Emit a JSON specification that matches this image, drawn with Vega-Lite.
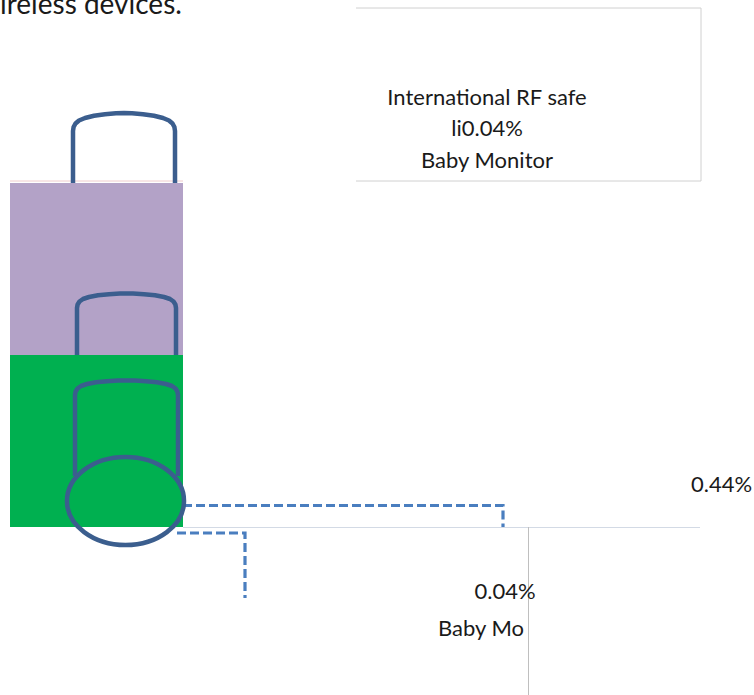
{
  "$schema": "https://vega.github.io/schema/vega-lite/v6.json",
  "width": 754,
  "height": 695,
  "autosize": "none",
  "padding": 0,
  "background": "white",
  "config": {"view": {"stroke": null}},
  "datasets": {
    "blocks": [
      {"block": "upper", "x0": 10, "x1": 183, "y0": 183, "y1": 355},
      {"block": "lower", "x0": 10, "x1": 183, "y0": 355, "y1": 527}
    ],
    "guides": [
      {"path": "box", "seq": 1, "x": 356, "y": 8},
      {"path": "box", "seq": 2, "x": 701, "y": 8},
      {"path": "box", "seq": 3, "x": 701, "y": 181},
      {"path": "box", "seq": 4, "x": 356, "y": 181},
      {"path": "pink", "seq": 1, "x": 10, "y": 181},
      {"path": "pink", "seq": 2, "x": 183, "y": 181},
      {"path": "base", "seq": 1, "x": 183, "y": 527.5},
      {"path": "base", "seq": 2, "x": 700, "y": 527.5},
      {"path": "vert", "seq": 1, "x": 528.5, "y": 527},
      {"path": "vert", "seq": 2, "x": 528.5, "y": 695}
    ],
    "arches": [
      {"path": "a1", "seq": 1, "x": 73, "y": 183},
      {"path": "a1", "seq": 2, "x": 73, "y": 131},
      {"path": "a1", "seq": 3, "x": 73.6, "y": 127},
      {"path": "a1", "seq": 4, "x": 75.5, "y": 123.5},
      {"path": "a1", "seq": 5, "x": 79, "y": 120.5},
      {"path": "a1", "seq": 6, "x": 85, "y": 118},
      {"path": "a1", "seq": 7, "x": 94, "y": 115.8},
      {"path": "a1", "seq": 8, "x": 105, "y": 114.2},
      {"path": "a1", "seq": 9, "x": 116, "y": 113.3},
      {"path": "a1", "seq": 10, "x": 124, "y": 113},
      {"path": "a1", "seq": 11, "x": 132, "y": 113.3},
      {"path": "a1", "seq": 12, "x": 143, "y": 114.2},
      {"path": "a1", "seq": 13, "x": 154, "y": 115.8},
      {"path": "a1", "seq": 14, "x": 163, "y": 118},
      {"path": "a1", "seq": 15, "x": 169, "y": 120.5},
      {"path": "a1", "seq": 16, "x": 172.5, "y": 123.5},
      {"path": "a1", "seq": 17, "x": 174.4, "y": 127},
      {"path": "a1", "seq": 18, "x": 175, "y": 131},
      {"path": "a1", "seq": 19, "x": 175, "y": 183},
      {"path": "a2", "seq": 1, "x": 77, "y": 355},
      {"path": "a2", "seq": 2, "x": 77, "y": 308},
      {"path": "a2", "seq": 3, "x": 77.6, "y": 304.5},
      {"path": "a2", "seq": 4, "x": 79.5, "y": 301.5},
      {"path": "a2", "seq": 5, "x": 83, "y": 299},
      {"path": "a2", "seq": 6, "x": 89, "y": 297},
      {"path": "a2", "seq": 7, "x": 98, "y": 295.3},
      {"path": "a2", "seq": 8, "x": 109, "y": 294.2},
      {"path": "a2", "seq": 9, "x": 120, "y": 293.6},
      {"path": "a2", "seq": 10, "x": 126.5, "y": 293.5},
      {"path": "a2", "seq": 11, "x": 133, "y": 293.6},
      {"path": "a2", "seq": 12, "x": 144, "y": 294.2},
      {"path": "a2", "seq": 13, "x": 155, "y": 295.3},
      {"path": "a2", "seq": 14, "x": 164, "y": 297},
      {"path": "a2", "seq": 15, "x": 170, "y": 299},
      {"path": "a2", "seq": 16, "x": 173.5, "y": 301.5},
      {"path": "a2", "seq": 17, "x": 175.4, "y": 304.5},
      {"path": "a2", "seq": 18, "x": 176, "y": 308},
      {"path": "a2", "seq": 19, "x": 176, "y": 355},
      {"path": "a3", "seq": 1, "x": 75, "y": 476},
      {"path": "a3", "seq": 2, "x": 75, "y": 395},
      {"path": "a3", "seq": 3, "x": 75.6, "y": 391.5},
      {"path": "a3", "seq": 4, "x": 77.5, "y": 388.5},
      {"path": "a3", "seq": 5, "x": 81, "y": 386},
      {"path": "a3", "seq": 6, "x": 87, "y": 384},
      {"path": "a3", "seq": 7, "x": 96, "y": 382.3},
      {"path": "a3", "seq": 8, "x": 107, "y": 381.2},
      {"path": "a3", "seq": 9, "x": 118, "y": 380.6},
      {"path": "a3", "seq": 10, "x": 126.5, "y": 380.5},
      {"path": "a3", "seq": 11, "x": 135, "y": 380.6},
      {"path": "a3", "seq": 12, "x": 146, "y": 381.2},
      {"path": "a3", "seq": 13, "x": 157, "y": 382.3},
      {"path": "a3", "seq": 14, "x": 166, "y": 384},
      {"path": "a3", "seq": 15, "x": 172, "y": 386},
      {"path": "a3", "seq": 16, "x": 175.5, "y": 388.5},
      {"path": "a3", "seq": 17, "x": 177.4, "y": 391.5},
      {"path": "a3", "seq": 18, "x": 178, "y": 395},
      {"path": "a3", "seq": 19, "x": 178, "y": 476}
    ],
    "connectors": [
      {"path": "c1", "seq": 1, "x": 183, "y": 505.5},
      {"path": "c1", "seq": 2, "x": 503, "y": 505.5},
      {"path": "c1", "seq": 3, "x": 503, "y": 527},
      {"path": "c2", "seq": 1, "x": 177, "y": 533},
      {"path": "c2", "seq": 2, "x": 245, "y": 533},
      {"path": "c2", "seq": 3, "x": 245, "y": 598}
    ],
    "ellipse": [
      {"x": 125.5, "y": 501}
    ],
    "title": [
      {"text": "ireless devices.", "x": 0, "y": 14}
    ],
    "labels": [
      {"text": "International RF safe", "x": 487, "y": 105},
      {"text": "li0.04%", "x": 487, "y": 136},
      {"text": "Baby Monitor", "x": 487, "y": 168},
      {"text": "0.44%", "x": 721.5, "y": 492},
      {"text": "0.04%", "x": 505, "y": 599}
    ],
    "clipped": [
      {"text": "Baby Monitor", "x": 438, "y": 636}
    ]
  },
  "layer": [
    {
      "data": {"name": "blocks"},
      "mark": {"type": "rect"},
      "encoding": {
        "x": {"field": "x0", "type": "quantitative", "scale": {"domain": [0, 754], "nice": false, "zero": false}, "axis": null},
        "x2": {"field": "x1"},
        "y": {"field": "y0", "type": "quantitative", "scale": {"domain": [0, 695], "nice": false, "zero": false, "reverse": true}, "axis": null},
        "y2": {"field": "y1"},
        "color": {"field": "block", "type": "nominal", "scale": {"domain": ["upper", "lower"], "range": ["#b3a2c7", "#00b050"]}, "legend": null}
      }
    },
    {
      "data": {"name": "guides"},
      "mark": {"type": "line", "strokeWidth": 1},
      "encoding": {
        "x": {"field": "x", "type": "quantitative", "axis": null},
        "y": {"field": "y", "type": "quantitative", "axis": null},
        "order": {"field": "seq"},
        "stroke": {"field": "path", "type": "nominal", "scale": {"domain": ["box", "pink", "base", "vert"], "range": ["#d0d0d0", "#f0cccc", "#d3dae5", "#bfbfbf"]}, "legend": null}
      }
    },
    {
      "data": {"name": "connectors"},
      "mark": {"type": "line", "strokeWidth": 3.2, "strokeDash": [9, 4], "color": "#4a7ebf"},
      "encoding": {
        "x": {"field": "x", "type": "quantitative", "axis": null},
        "y": {"field": "y", "type": "quantitative", "axis": null},
        "order": {"field": "seq"},
        "detail": {"field": "path"}
      }
    },
    {
      "data": {"name": "arches"},
      "mark": {"type": "line", "strokeWidth": 4.5, "strokeJoin": "round", "color": "#3b5e8e"},
      "encoding": {
        "x": {"field": "x", "type": "quantitative", "axis": null},
        "y": {"field": "y", "type": "quantitative", "axis": null},
        "order": {"field": "seq"},
        "detail": {"field": "path"}
      }
    },
    {
      "data": {"name": "ellipse"},
      "mark": {"type": "point", "shape": "M-1,0C-1,-0.4153,-0.5523,-0.752,0,-0.752C0.5523,-0.752,1,-0.4153,1,0C1,0.4153,0.5523,0.752,0,0.752C-0.5523,0.752,-1,0.4153,-1,0Z", "size": 13700, "filled": false, "opacity": 1, "strokeWidth": 4.5, "color": "#3b5e8e"},
      "encoding": {
        "x": {"field": "x", "type": "quantitative", "axis": null},
        "y": {"field": "y", "type": "quantitative", "axis": null}
      }
    },
    {
      "data": {"name": "title"},
      "mark": {"type": "text", "align": "left", "baseline": "alphabetic", "font": "Lato", "fontSize": 28, "color": "#1a1a1a"},
      "encoding": {
        "x": {"field": "x", "type": "quantitative", "axis": null},
        "y": {"field": "y", "type": "quantitative", "axis": null},
        "text": {"field": "text"}
      }
    },
    {
      "data": {"name": "labels"},
      "mark": {"type": "text", "align": "center", "baseline": "alphabetic", "font": "Lato", "fontSize": 22, "color": "#1a1a1a"},
      "encoding": {
        "x": {"field": "x", "type": "quantitative", "axis": null},
        "y": {"field": "y", "type": "quantitative", "axis": null},
        "text": {"field": "text"}
      }
    },
    {
      "data": {"name": "clipped"},
      "mark": {"type": "text", "align": "left", "baseline": "alphabetic", "font": "Lato", "fontSize": 22, "color": "#1a1a1a", "limit": 92, "ellipsis": "\u200b"},
      "encoding": {
        "x": {"field": "x", "type": "quantitative", "axis": null},
        "y": {"field": "y", "type": "quantitative", "axis": null},
        "text": {"field": "text"}
      }
    }
  ]
}
